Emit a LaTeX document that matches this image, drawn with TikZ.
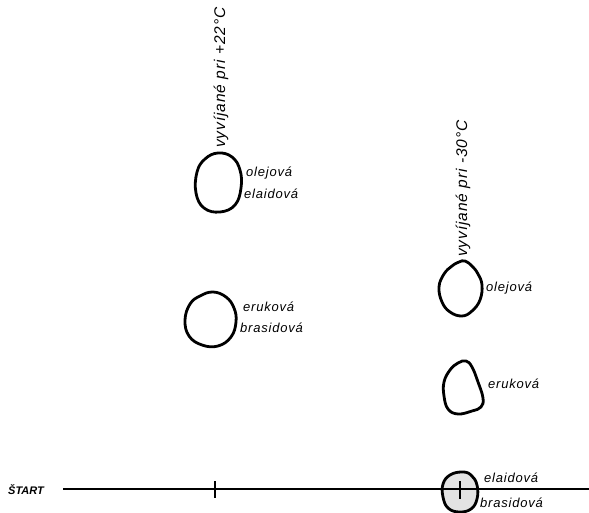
\documentclass[tikz,border=0pt]{standalone}
\usepackage{fontspec}
\setmainfont{Liberation Sans}[ItalicFeatures={LetterSpace=6}]
\begin{document}
\begin{tikzpicture}[x=1pt,y=-1pt,
  spot/.style={line width=2.8pt,line join=round},
  lab/.style={font=\itshape\fontsize{13}{14}\selectfont,inner sep=0pt,anchor=west},
  vert/.style={font=\itshape\fontsize{15.5}{16}\selectfont,inner sep=0pt,rotate=90,anchor=west},
  base/.style={line width=1.3pt}]
\useasboundingbox (0,0) rectangle (589,513);
% baseline
\node[font=\itshape\bfseries\fontsize{11}{12}\selectfont,inner sep=0pt,anchor=west] (start) at (8,490) {ŠTART};
\coordinate (lineL) at (63,489);
\coordinate (lineR) at (589,489);
\draw[base] (lineL) -- (lineR);
\coordinate (t1a) at (215,481); \coordinate (t1b) at (215,498);
\draw[line width=1.2pt] (t1a) -- (t1b);
% vertical labels
\node[vert] (v1) at (221,148) {vyvíjané pri +22°C};
\node[vert] (v2) at (463,257) {vyvíjané pri -30°C};
% spot 1
\draw[spot] plot[smooth cycle,tension=0.7] coordinates {(218,153) (232,157) (240,170) (241,188) (235,205) (220,212) (204,208) (196,193) (197,172) (205,159)};
\node[lab] (l1a) at (246,173) {olejová};
\node[lab] (l1b) at (244,194) {elaidová};
% spot 2
\draw[spot] plot[smooth cycle,tension=0.7] coordinates {(213,292) (226,297) (234,308) (236,322) (231,337) (218,346) (202,345) (189,336) (185,320) (190,304) (200,296)};
\node[lab] (l2a) at (243,307) {eruková};
\node[lab] (l2b) at (240,328) {brasidová};
% spot 3
\draw[spot] plot[smooth cycle,tension=0.7] coordinates {(465,261) (472,266) (478,274) (482,285) (480,300) (472,311) (462,316) (450,312) (442,302) (439,287) (444,274) (452,266) (459,262)};
\node[lab] (l3) at (486,288) {olejová};
% spot 4
\draw[spot] plot[smooth cycle,tension=0.7] coordinates {(466,361) (472,367) (478,382) (483,398) (481,407) (472,411) (458,414) (448,409) (444,396) (444,382) (450,370) (458,363)};
\node[lab] (l4) at (488,384) {eruková};
% spot 5
\draw[spot,fill=gray!22] plot[smooth cycle,tension=0.7] coordinates {(462,472) (471,475) (477,485) (477,499) (471,509) (459,512) (448,508) (443,497) (443,484) (450,475)};
\draw[base] (443,489) -- (477,489);
\coordinate (t2a) at (460,481); \coordinate (t2b) at (460,499);
\draw[line width=1.2pt] (t2a) -- (t2b);
\node[lab] (l5a) at (484,478) {elaidová};
\node[lab] (l5b) at (480,503) {brasidová};
\end{tikzpicture}
\end{document}
